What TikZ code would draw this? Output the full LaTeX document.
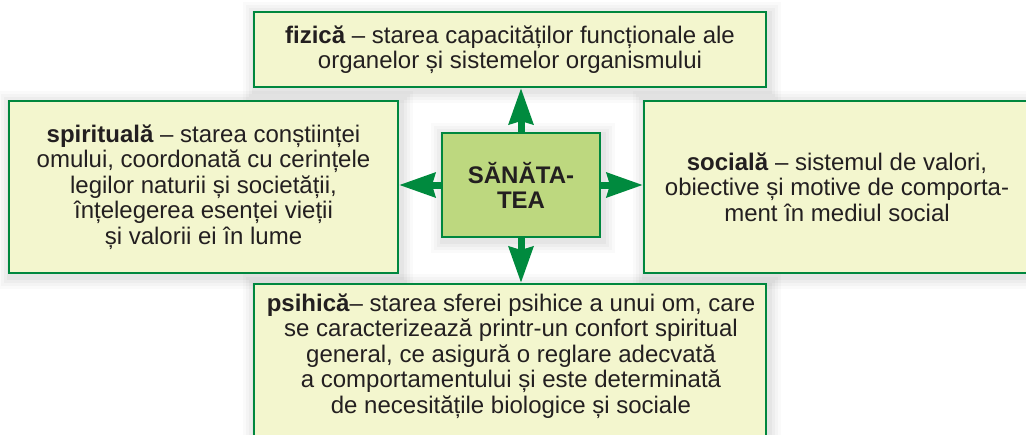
\documentclass[tikz,border=0pt]{standalone}
\usepackage{fontspec}
\setmainfont{Liberation Sans}
\usetikzlibrary{arrows.meta}
\definecolor{bordergreen}{RGB}{0,135,62}
\definecolor{arrowgreen}{RGB}{0,138,62}
\definecolor{paleyellow}{RGB}{243,246,206}
\definecolor{midgreen}{RGB}{189,216,127}
\definecolor{txt}{RGB}{35,31,32}
\tikzset{
  softshadow/.style={
    preaction={draw=black, line width=26pt, opacity=0.018, transform canvas={xshift=1.5pt, yshift=-2.5pt}},
    preaction={draw=black, line width=20pt, opacity=0.022, transform canvas={xshift=1.5pt, yshift=-2.5pt}},
    preaction={draw=black, line width=14pt, opacity=0.026, transform canvas={xshift=1.5pt, yshift=-2.5pt}},
    preaction={draw=black, line width=8pt, opacity=0.03, transform canvas={xshift=1.5pt, yshift=-2.5pt}}
  },
  infobox/.style={softshadow, rectangle, draw=bordergreen, line width=2pt, fill=paleyellow,
    inner sep=0pt, text=txt, align=center,
    font=\fontsize{24}{25.5}\selectfont},
  txtnode/.style={text=txt, align=center, inner sep=0pt, font=\fontsize{24}{25.5}\selectfont},
  corebox/.style={softshadow, rectangle, draw=bordergreen, line width=2pt, fill=midgreen,
    inner sep=0pt, text=txt, align=center,
    font=\fontsize{24}{25}\selectfont\bfseries},
  arr/.style={draw=arrowgreen, line width=7pt,
    -{Stealth[length=36pt, width=24pt, inset=3pt, fill=arrowgreen]}}
}
\begin{document}
\begin{tikzpicture}[x=1pt, y=-1pt]
\useasboundingbox (0,0) rectangle (1026,434);
\fill[white] (0,0) rectangle (1026,434);

\node[infobox, minimum width=512pt, minimum height=75pt] (top) at (510,49.5)
  {\textbf{fizică} – starea capacităților funcționale ale\\organelor și sistemelor organismului};
\node[infobox, minimum width=389pt, minimum height=172pt] (left) at (203.5,187)
  {\textbf{spirituală} – starea conștiinței\\omului, coordonată cu cerințele\\legilor naturii și societății,\\înțelegerea esenței vieții\\și valorii ei în lume};
\node[infobox, minimum width=386pt, minimum height=172pt] (right) at (837,187)
  {\textbf{socială} – sistemul de valori,\\obiective și motive de comporta-\\ment în mediul social};
\node[infobox, minimum width=512pt, minimum height=164pt] (bot) at (510,366) {};
\node[txtnode] (bottxt) at (511,356)
  {\textbf{psihică}– starea sferei psihice a unui om, care\\se caracterizează printr-un confort spiritual\\general, ce asigură o reglare adecvată\\a comportamentului și este determinată\\de necesitățile biologice și sociale};

\node[corebox, minimum width=158pt, minimum height=104pt] (core) at (521,185)
  {SĂNĂTA-\\TEA};

\draw[arr] (core.north) -- (core.north |- top.south);
\draw[arr] (core.south) -- (core.south |- bot.north);
\draw[arr] (core.west) -- (core.west -| left.east);
\draw[arr] (core.east) -- (core.east -| right.west);
\end{tikzpicture}
\end{document}
